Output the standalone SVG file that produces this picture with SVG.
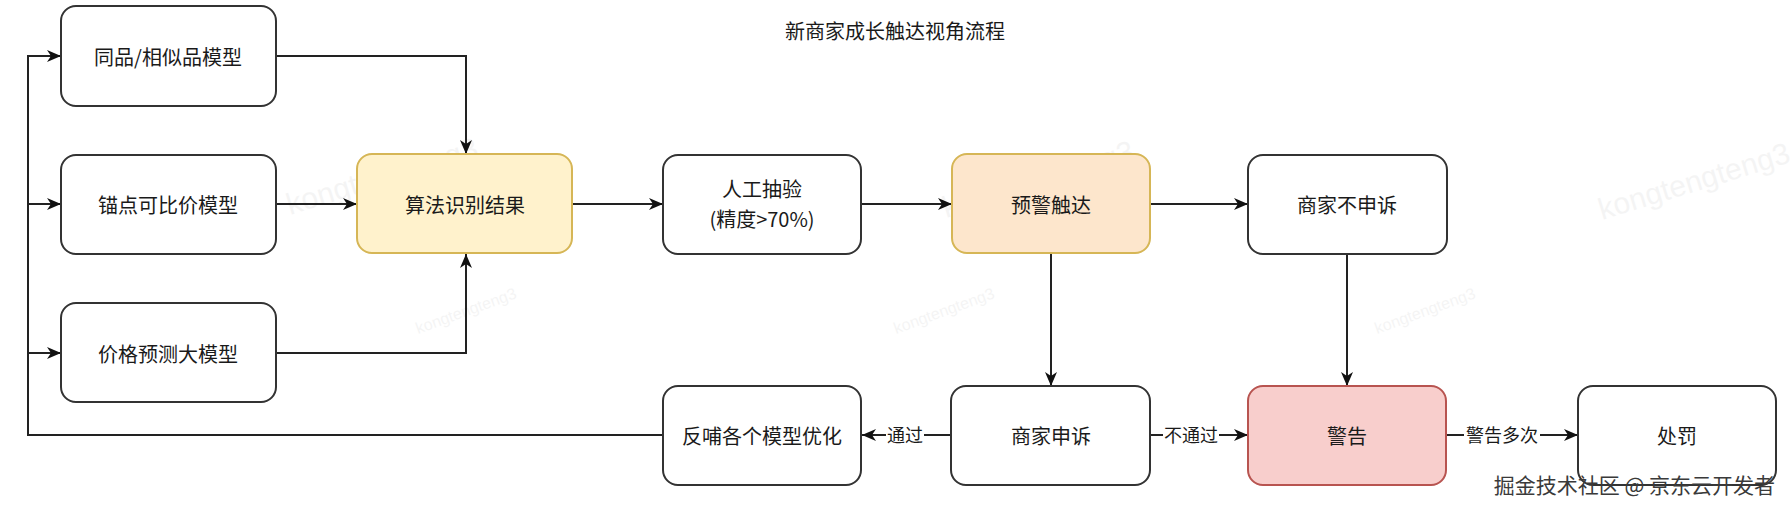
<svg xmlns="http://www.w3.org/2000/svg" width="1792" height="510" viewBox="0 0 1792 510">
<style>
  .box{fill:#ffffff;stroke:#333333;stroke-width:2}
  .yellow{fill:#fff2cc;stroke:#d6b656}
  .orange{fill:#fde6cc;stroke:#d6b656}
  .red{fill:#f8cecc;stroke:#b85450}
  .t{font-family:"Noto Sans CJK SC","Liberation Sans",sans-serif;font-size:20px;fill:#1a1a1a;text-anchor:middle;dominant-baseline:central}
  .lbl{font-family:"Noto Sans CJK SC","Liberation Sans",sans-serif;font-size:18px;fill:#1a1a1a;text-anchor:middle;dominant-baseline:central}
  .edge{fill:none;stroke:#222222;stroke-width:2}
  .wm{font-family:"Liberation Sans",sans-serif;fill:#000000;opacity:0.04}
</style>
<defs>
  <marker id="arr" viewBox="0 0 14 12" refX="14" refY="6" markerWidth="14" markerHeight="12" markerUnits="userSpaceOnUse" orient="auto">
    <path d="M0,0 L14,6 L0,12 L4,6 Z" fill="#111111"/>
  </marker>
</defs>
<rect width="1792" height="510" fill="#ffffff"/>

<g id="watermarks">
  <text class="wm" font-size="30" transform="translate(290,215) rotate(-17)">kongtengteng3</text>
  <text class="wm" font-size="30" transform="translate(946,218) rotate(-17)">kongtengteng3</text>
  <text class="wm" font-size="30" transform="translate(1602,220) rotate(-17)">kongtengteng3</text>
  <text class="wm" font-size="16" transform="translate(418,334) rotate(-20)">kongtengteng3</text>
  <text class="wm" font-size="16" transform="translate(896,334) rotate(-20)">kongtengteng3</text>
  <text class="wm" font-size="16" transform="translate(1377,334) rotate(-20)">kongtengteng3</text>
</g>

<text id="title" class="t" x="895" y="30" font-size="19">新商家成长触达视角流程</text>

<g id="connectors">
  <path class="edge" d="M276,56 H466 V154" marker-end="url(#arr)"/>
  <path class="edge" d="M276,204 H357" marker-end="url(#arr)"/>
  <path class="edge" d="M276,353 H466 V254" marker-end="url(#arr)"/>
  <path class="edge" d="M572,204 H663" marker-end="url(#arr)"/>
  <path class="edge" d="M861,204 H952" marker-end="url(#arr)"/>
  <path class="edge" d="M1150,204 H1248" marker-end="url(#arr)"/>
  <path class="edge" d="M1051,254 V386" marker-end="url(#arr)"/>
  <path class="edge" d="M1347,254 V386" marker-end="url(#arr)"/>
  <path class="edge" d="M951,435 H862" marker-end="url(#arr)"/>
  <path class="edge" d="M1150,435 H1248" marker-end="url(#arr)"/>
  <path class="edge" d="M1446,435 H1578" marker-end="url(#arr)"/>
  <path class="edge" d="M663,435 H28 V56 H61" marker-end="url(#arr)"/>
  <path class="edge" d="M28,204 H61" marker-end="url(#arr)"/>
  <path class="edge" d="M28,353 H61" marker-end="url(#arr)"/>
  <rect x="886" y="423" width="38" height="24" fill="#ffffff"/>
  <text class="lbl" x="905" y="434">通过</text>
  <rect x="1163" y="423" width="56" height="24" fill="#ffffff"/>
  <text class="lbl" x="1191" y="434">不通过</text>
  <rect x="1464" y="423" width="76" height="24" fill="#ffffff"/>
  <text class="lbl" x="1502" y="434">警告多次</text>
</g>

<g id="n1"><rect class="box" x="61" y="6" width="215" height="100" rx="15"/><text class="t" x="168" y="56">同品/相似品模型</text></g>
<g id="n2"><rect class="box" x="61" y="155" width="215" height="99" rx="15"/><text class="t" x="168" y="204">锚点可比价模型</text></g>
<g id="n3"><rect class="box" x="61" y="303" width="215" height="99" rx="15"/><text class="t" x="168" y="353">价格预测大模型</text></g>
<g id="n4"><rect class="box yellow" x="357" y="154" width="215" height="99" rx="15"/><text class="t" x="465" y="204">算法识别结果</text></g>
<g id="n5"><rect class="box" x="663" y="155" width="198" height="99" rx="15"/><text class="t" x="762" y="188">人工抽验</text><text class="t" x="762" y="218">(精度&gt;70%)</text></g>
<g id="n6"><rect class="box orange" x="952" y="154" width="198" height="99" rx="15"/><text class="t" x="1051" y="204">预警触达</text></g>
<g id="n7"><rect class="box" x="1248" y="155" width="199" height="99" rx="15"/><text class="t" x="1347" y="204">商家不申诉</text></g>
<g id="n8"><rect class="box" x="663" y="386" width="198" height="99" rx="15"/><text class="t" x="762" y="435">反哺各个模型优化</text></g>
<g id="n9"><rect class="box" x="951" y="386" width="199" height="99" rx="15"/><text class="t" x="1051" y="435">商家申诉</text></g>
<g id="n10"><rect class="box red" x="1248" y="386" width="198" height="99" rx="15"/><text class="t" x="1347" y="435">警告</text></g>
<g id="n11"><rect class="box" x="1578" y="386" width="198" height="99" rx="15"/><text class="t" x="1677" y="435">处罚</text></g>

<text id="footer" x="1775" y="484" font-family="Noto Sans CJK SC,Liberation Sans,sans-serif" font-size="21" fill="#3a3a3a" text-anchor="end" dominant-baseline="central">掘金技术社区 @ 京东云开发者</text>
</svg>
